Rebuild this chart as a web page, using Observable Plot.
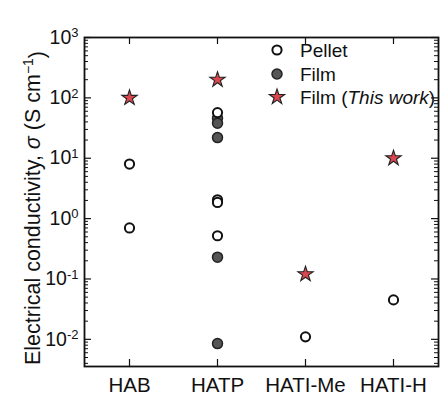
<!DOCTYPE html>
<html><head><meta charset="utf-8">
<script src="https://cdn.jsdelivr.net/npm/d3@7"></script>
<script src="https://cdn.jsdelivr.net/npm/@observablehq/plot@0.6"></script>
<style>body{margin:0;background:#fff} svg{display:block}</style>
</head><body><div id="chart"></div>
<script>
const categories = ["HAB", "HATP", "HATI-Me", "HATI-H"];
const pelletCat = ["HAB", "HAB", "HATP", "HATP", "HATP", "HATP", "HATI-Me", "HATI-H"];
const pelletVal = [8, 0.7, 57, 2.05, 1.85, 0.52, 0.011, 0.045];
const filmCat = ["HATP", "HATP", "HATP", "HATP", "HATP"];
const filmVal = [46, 38, 22, 0.23, 0.0085];
const thisWorkCat = ["HAB", "HATP", "HATI-Me", "HATI-H"];
const thisWorkVal = [100, 200, 0.12, 10];
const yTicks = [0.01, 0.1, 1, 10, 100, 1000];
const yTickLabels = ["10^-2", "10^-1", "10^0", "10^1", "10^2", "10^3"];
const legendLabels = ["Pellet", "Film", "Film (", "This work", ")"];
const yLabelParts = ["Electrical conductivity, ", "σ", " (S cm", "−1", ")"];

const W = 448, H = 405, mL = 84, mR = 10, mT = 37, mB = 39;
const pw = W - mL - mR, ph = H - mT - mB;
const yMin = Math.pow(10, -2.45);
const font = "'Liberation Sans', Arial, Helvetica, sans-serif";

const pellet = pelletCat.map((c, i) => ({cat: c, v: pelletVal[i]}));
const film = filmCat.map((c, i) => ({cat: c, v: filmVal[i]}));
const thisWork = thisWorkCat.map((c, i) => ({cat: c, v: thisWorkVal[i]}));

const minor = [];
for (let e = -3; e < 3; e++) for (let m = 2; m <= 9; m++) {
  const v = m * Math.pow(10, e);
  if (v >= yMin && v <= 1000) minor.push(v);
}

const plot = Plot.plot({
  width: W, height: H,
  marginLeft: mL, marginRight: mR, marginTop: mT, marginBottom: mB,
  style: {fontFamily: font, fontSize: "19px", color: "#111", background: "#fff"},
  x: {type: "point", domain: categories, padding: 0.5, label: null},
  y: {type: "log", domain: [yMin, 1000], label: null},
  marks: [
    Plot.axisY(yTicks, {tickSize: 0, tickPadding: 6, label: null,
      tickFormat: d => yTickLabels[yTicks.indexOf(d)]}),
    Plot.axisX({tickSize: 0, tickPadding: 11, label: null}),
    Plot.ruleY(yTicks, {stroke: "#111", strokeWidth: 1.2, insetRight: pw - 7}),
    Plot.ruleY(yTicks, {stroke: "#111", strokeWidth: 1.2, insetLeft: pw - 7}),
    Plot.ruleY(minor, {stroke: "#111", strokeWidth: 1, insetRight: pw - 4}),
    Plot.ruleY(minor, {stroke: "#111", strokeWidth: 1, insetLeft: pw - 4}),
    Plot.ruleX(categories, {stroke: "#111", strokeWidth: 1.2, insetTop: ph - 7}),
    Plot.ruleX(categories, {stroke: "#111", strokeWidth: 1.2, insetBottom: ph - 7}),
    Plot.frame({stroke: "#111", strokeWidth: 1.8}),
    Plot.dot(film, {x: "cat", y: "v", r: 5, fill: "#555", stroke: "#222", strokeWidth: 1.5}),
    Plot.dot(pellet, {x: "cat", y: "v", r: 4.6, fill: "#fff", stroke: "#111", strokeWidth: 2}),
    Plot.dot(thisWork, {x: "cat", y: "v", symbol: "star", r: 4.8, fill: "#d9474f", stroke: "#222", strokeWidth: 1.1})
  ]
});

const svg = d3.select(plot);
svg.selectAll('g[aria-label="x-axis tick label"] text').style("font-size", "20.5px");
svg.selectAll('g[aria-label="y-axis tick label"] text').each(function() {
  const t = this.textContent.split("^");
  this.textContent = t[0];
  d3.select(this).style("font-size", "19.5px");
  d3.select(this).append("tspan").attr("dy", "-0.5em").style("font-size", "13px").text(t[1]);
});

// y-axis title
const yl = svg.append("text")
  .attr("transform", `translate(40,208) rotate(-90)`)
  .attr("text-anchor", "middle")
  .attr("font-family", font).style("font-size", "21.5px").attr("fill", "#111");
yl.append("tspan").text(yLabelParts[0]);
yl.append("tspan").attr("font-style", "italic").text(yLabelParts[1]);
yl.append("tspan").text(yLabelParts[2]);
yl.append("tspan").attr("dy", "-0.5em").style("font-size", "14px").text(yLabelParts[3]);
yl.append("tspan").attr("dy", "0.5em").text(yLabelParts[4]);

// legend
const lg = svg.append("g").attr("font-family", font).style("font-size", "19px").attr("fill", "#111").attr("text-anchor", "start");
const lx = 277, tx = 300, ly = [50, 74, 97];
lg.append("circle").attr("cx", lx).attr("cy", ly[0]).attr("r", 4.6).attr("fill", "#fff").attr("stroke", "#111").attr("stroke-width", 2);
lg.append("circle").attr("cx", lx).attr("cy", ly[1]).attr("r", 5).attr("fill", "#555").attr("stroke", "#222").attr("stroke-width", 1.5);
lg.append("path").attr("transform", `translate(${lx},${ly[2]})`)
  .attr("d", d3.symbol(d3.symbolStar, Math.PI * 4.8 * 4.8)())
  .attr("fill", "#d9474f").attr("stroke", "#222").attr("stroke-width", 1.1);
lg.append("text").attr("x", tx).attr("y", ly[0]).attr("dy", "0.35em").text(legendLabels[0]);
lg.append("text").attr("x", tx).attr("y", ly[1]).attr("dy", "0.35em").text(legendLabels[1]);
const t3 = lg.append("text").attr("x", tx).attr("y", ly[2]).attr("dy", "0.35em");
t3.append("tspan").text(legendLabels[2]);
t3.append("tspan").attr("font-style", "italic").text(legendLabels[3]);
t3.append("tspan").text(legendLabels[4]);

document.getElementById("chart").appendChild(plot);
</script>
</body></html>
